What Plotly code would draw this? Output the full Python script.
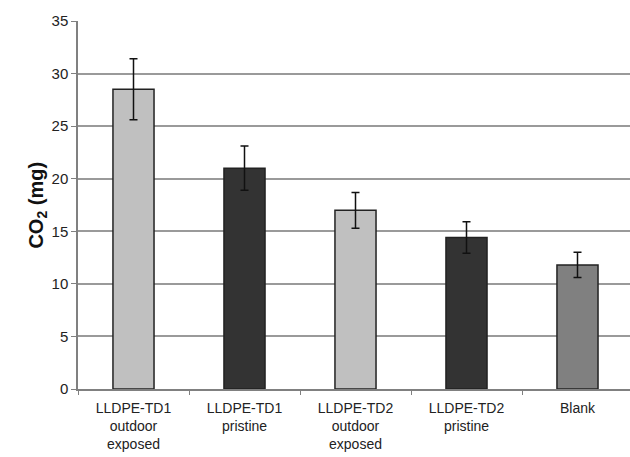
import plotly.graph_objects as go

categories = [
    "LLDPE-TD1<br>outdoor<br>exposed",
    "LLDPE-TD1<br>pristine",
    "LLDPE-TD2<br>outdoor<br>exposed",
    "LLDPE-TD2<br>pristine",
    "Blank",
]
co2_mg = [28.5, 21.0, 17.0, 14.4, 11.8]
co2_err = [2.9, 2.1, 1.7, 1.5, 1.2]
bar_colors = ["#c0c0c0", "#333333", "#c0c0c0", "#333333", "#808080"]
y_ticks = [0, 5, 10, 15, 20, 25, 30, 35]

FONT = "Arial, Liberation Sans, sans-serif"

fig = go.Figure()
fig.add_trace(go.Bar(
    x=categories,
    y=co2_mg,
    width=0.37,
    marker=dict(color=bar_colors, line=dict(color="#222222", width=1.5)),
    error_y=dict(type="data", array=co2_err, visible=True,
                 color="#111111", thickness=1.5, width=4),
))

fig.update_layout(
    width=630, height=457,
    margin=dict(l=78, r=0, t=21, b=68),
    paper_bgcolor="white", plot_bgcolor="white",
    showlegend=False,
    font=dict(family=FONT, color="#222222", size=14),
)
fig.update_xaxes(
    type="category",
    range=[-0.5, 4.473],
    showline=True, linecolor="#808080", linewidth=1.5,
    ticks="outside", tickson="boundaries", ticklen=4, tickcolor="#808080",
    tickfont=dict(family=FONT, size=14, color="#222222"),
    ticklabelstandoff=5,
    showgrid=False,
)
fig.update_yaxes(
    range=[0, 35],
    tickvals=y_ticks,
    showline=True, linecolor="#808080", linewidth=1.5,
    ticks="outside", ticklen=5, tickcolor="#808080",
    showgrid=True, gridcolor="#9a9a9a", gridwidth=1.5,
    zeroline=False,
    tickfont=dict(family=FONT, size=15, color="#222222"),
)
fig.add_annotation(
    text="<b>CO<sub>2</sub> (mg)</b>",
    xref="paper", yref="paper",
    x=-0.075, y=0.5, xanchor="center", yanchor="middle",
    textangle=-90, showarrow=False,
    font=dict(family=FONT, size=20, color="#111111"),
)

fig.write_html("out.html")
